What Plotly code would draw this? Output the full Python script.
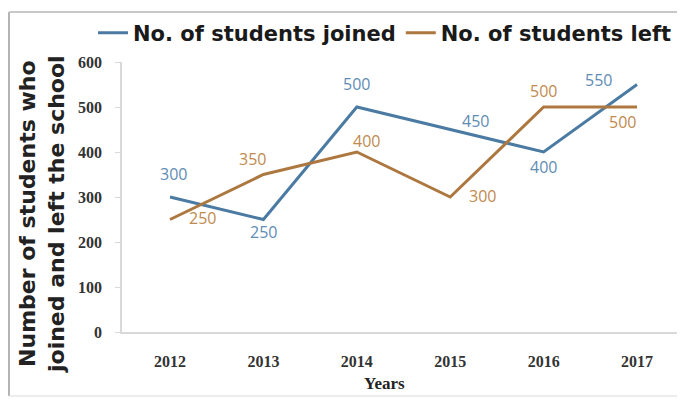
import plotly.graph_objects as go

# datos
years = [2012, 2013, 2014, 2015, 2016, 2017]
joined = [300, 250, 500, 450, 400, 550]
left = [250, 350, 400, 300, 500, 500]
y_ticks = [0, 100, 200, 300, 400, 500, 600]

# desplazamiento de las etiquetas (px) respecto a cada punto
joined_shift = [(3, 23), (0, -12), (0, 23), (25, 9), (0, -15), (-39, 5)]
left_shift = [(32, 2), (-11, 16), (10, 11), (32, 1), (0, 16), (-15, -15)]

blue = "#4b7ba3"
brown = "#ad7840"
blue_txt = "#5f8cb3"
brown_txt = "#bf8a4f"

# el body del html tiene 8px de margen
OFF = 8
W, H = 685 - OFF, 399 - OFF
L, R, T, B = 122 - OFF, 680 - OFF, 62 - OFF, 332 - OFF
pw, ph = R - L, B - T


def px_x(x):
    return (x - OFF - L) / pw


def px_y(y):
    return (B - (y - OFF)) / ph


fig = go.Figure()

fig.add_trace(go.Scatter(x=years, y=joined, mode="lines", name="No. of students joined",
                         line=dict(color=blue, width=3)))
fig.add_trace(go.Scatter(x=years, y=left, mode="lines", name="No. of students left",
                         line=dict(color=brown, width=3)))

annotations = []
for vals, shifts, col in [(joined, joined_shift, blue_txt), (left, left_shift, brown_txt)]:
    for x, v, (dx, dy) in zip(years, vals, shifts):
        annotations.append(dict(
            x=x, y=v, text=str(v), showarrow=False, xshift=dx, yshift=dy,
            xanchor="center", yanchor="middle",
            font=dict(family="Open Sans", size=16, color=col)))

annotations += [
    dict(text="<b>Number of students who<br>joined and left the school</b>",
         xref="paper", yref="paper", x=px_x(42), y=px_y(214),
         xanchor="center", yanchor="middle", textangle=-90, showarrow=False,
         font=dict(family="DejaVu Sans", size=22, color="#222222")),
    dict(text="<b>Years</b>", xref="paper", yref="paper",
         x=px_x(384), y=px_y(383), xanchor="center", yanchor="middle", showarrow=False,
         font=dict(family="Liberation Serif", size=17, color="#222222")),
]

fig.update_layout(
    width=W, height=H,
    margin=dict(l=L, r=W - R, t=T, b=H - B, autoexpand=False),
    paper_bgcolor="white", plot_bgcolor="white",
    showlegend=True,
    legend=dict(
        orientation="h", x=px_x(93), y=px_y(33), xanchor="left", yanchor="middle",
        font=dict(family="DejaVu Sans", size=21, color="#1a1a1a", weight="bold"),
        itemwidth=30, tracegroupgap=0, bgcolor="rgba(0,0,0,0)"
    ),
    xaxis=dict(
        range=[2011.486, 2017.46], tickmode="array", tickvals=years,
        showgrid=False, zeroline=False, showline=True, linecolor="#d9d9d9", linewidth=1.5,
        ticks="", ticklabelstandoff=14,
        tickfont=dict(family="Liberation Serif", size=16, color="#333333", weight="bold")
    ),
    yaxis=dict(
        range=[0, 600], tickvals=y_ticks,
        showgrid=False, zeroline=False, showline=True, linecolor="#d9d9d9", linewidth=1.5,
        ticks="outside", ticklen=5, tickcolor="#d9d9d9", ticklabelstandoff=10,
        tickfont=dict(family="Liberation Serif", size=16, color="#333333", weight="bold")
    ),
    annotations=annotations,
    shapes=[
        # marco gris alrededor de todo el gráfico
        dict(type="line", xref="paper", yref="paper",
             x0=px_x(9), x1=px_x(9), y0=px_y(396), y1=px_y(12),
             line=dict(color="#b4b4b4", width=2)),
        dict(type="line", xref="paper", yref="paper",
             x0=px_x(9), x1=px_x(682), y0=px_y(12), y1=px_y(12),
             line=dict(color="#c8c8c8", width=2)),
        dict(type="line", xref="paper", yref="paper",
             x0=px_x(682), x1=px_x(682), y0=px_y(396), y1=px_y(12),
             line=dict(color="#e0e0e0", width=1.5)),
        dict(type="line", xref="paper", yref="paper",
             x0=px_x(9), x1=px_x(682), y0=px_y(396), y1=px_y(396),
             line=dict(color="#e6e6e6", width=1.5)),
    ]
)

fig.write_html("out.html")
